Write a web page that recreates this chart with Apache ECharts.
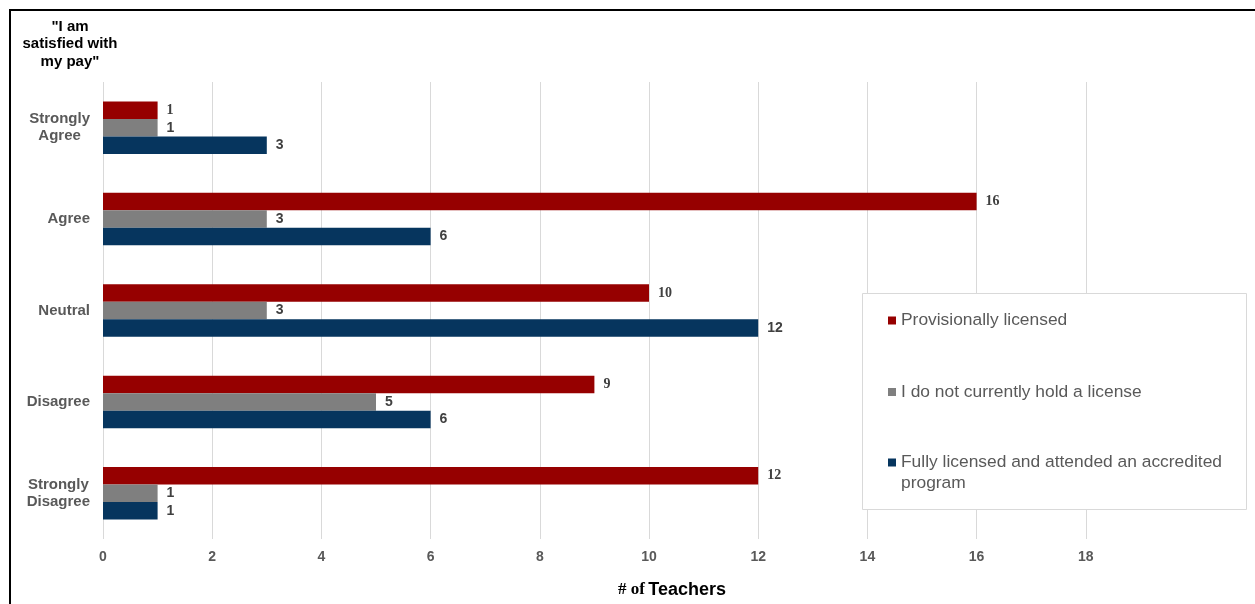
<!DOCTYPE html>
<html>
<head>
<meta charset="utf-8">
<script src="https://cdn.jsdelivr.net/npm/echarts@6/dist/echarts.min.js"></script>
<style>
  html, body { margin: 0; padding: 0; background: #fff; }
  #chart { width: 1255px; height: 604px; }
</style>
</head>
<body>
<div id="chart"></div>
<script>
// Survey responses: "I am satisfied with my pay", number of teachers per licensing group
const categories = ['Strongly Agree', 'Agree', 'Neutral', 'Disagree', 'Strongly Disagree'];
const provisional = [1, 16, 10, 9, 12];
const noLicense = [1, 3, 3, 5, 1];
const fullyLicensed = [3, 6, 12, 6, 1];
const seriesNames = [
  'Provisionally licensed',
  'I do not currently hold a license',
  'Fully licensed and attended an accredited program'
];
const xMin = 0, xMax = 20, xStep = 2;

const SANS = 'Liberation Sans, Arial, sans-serif';
const SERIF = 'Liberation Serif, Times New Roman, serif';
const colors = ['#960000', '#7f7f7f', '#06355e'];

const chart = echarts.init(document.getElementById('chart'), null, { renderer: 'canvas' });

function barSeries(name, data, color, serifLabel) {
  return {
    name: name,
    type: 'bar',
    data: data,
    barWidth: 17.5,
    barGap: '0%',
    itemStyle: { color: color },
    label: {
      show: true,
      position: 'right',
      distance: 9,
      color: '#404040',
      fontSize: 14,
      fontWeight: 'bold',
      fontFamily: serifLabel ? SERIF : SANS
    }
  };
}

const legendText = { color: '#595959', fontSize: 17.4, fontFamily: SANS, lineHeight: 21 };

const option = {
  animation: false,
  backgroundColor: '#fff',
  grid: { left: 103, right: 60, top: 82, bottom: 64, containLabel: false },
  xAxis: {
    type: 'value',
    min: xMin,
    max: xMax,
    interval: xStep,
    axisLine: { show: false },
    axisTick: { show: false },
    splitLine: { show: true, showMaxLine: false, lineStyle: { color: '#d9d9d9', width: 1 } },
    axisLabel: {
      showMaxLabel: false,
      margin: 11,
      color: '#595959',
      fontSize: 14,
      fontWeight: 'bold',
      fontFamily: SANS
    },
    name: '{s|# of} {t|Teachers}',
    nameLocation: 'middle',
    nameGap: 42,
    nameTextStyle: {
      padding: [0, 0, 0, 46],
      rich: {
        s: { fontFamily: SERIF, fontWeight: 'bold', fontSize: 17, color: '#000' },
        t: { fontFamily: SANS, fontWeight: 'bold', fontSize: 18, color: '#000' }
      }
    }
  },
  yAxis: {
    type: 'category',
    data: categories,
    inverse: true,
    axisLine: { show: false },
    axisTick: { show: false },
    splitLine: { show: false },
    axisLabel: {
      margin: 13,
      lineHeight: 17,
      formatter: function (v) {
        return v.split(' ').map(function (w) { return '{c|' + w + '}'; }).join('\n');
      },
      rich: {
        c: { align: 'center', color: '#595959', fontSize: 15, fontWeight: 'bold', fontFamily: SANS, lineHeight: 17 }
      }
    }
  },
  legend: [
    {
      data: [seriesNames[0], seriesNames[1]],
      orient: 'vertical',
      left: 888,
      top: 310,
      padding: 0,
      itemGap: 50.5,
      itemWidth: 8,
      itemHeight: 8,
      icon: 'rect',
      textStyle: legendText,
      z: 6
    },
    {
      // leading empty line keeps the marker level with the first text line
      data: [seriesNames[2]],
      orient: 'vertical',
      left: 888,
      top: 431,
      padding: 0,
      itemWidth: 8,
      itemHeight: 8,
      icon: 'rect',
      formatter: function () { return '\nFully licensed and attended an accredited\nprogram'; },
      textStyle: legendText,
      z: 6
    }
  ],
  graphic: [
    {
      type: 'rect',
      z: 3,
      shape: { x: 862.5, y: 293.5, width: 384, height: 216 },
      style: { fill: '#fff', stroke: '#d9d9d9', lineWidth: 1 }
    },
    {
      type: 'text',
      z: 5,
      x: 70,
      y: 18,
      style: {
        text: '"I am\nsatisfied with\nmy pay"',
        align: 'center',
        verticalAlign: 'top',
        fill: '#000',
        font: 'bold 15px ' + SANS,
        lineHeight: 17.5
      }
    },
    {
      type: 'line',
      z: 10,
      shape: { x1: 9, y1: 10, x2: 1255, y2: 10 },
      style: { stroke: '#000', lineWidth: 2 }
    },
    {
      type: 'line',
      z: 10,
      shape: { x1: 10, y1: 9, x2: 10, y2: 604 },
      style: { stroke: '#000', lineWidth: 2 }
    }
  ],
  series: [
    barSeries(seriesNames[0], provisional, colors[0], true),
    barSeries(seriesNames[1], noLicense, colors[1], false),
    barSeries(seriesNames[2], fullyLicensed, colors[2], false)
  ]
};

chart.setOption(option);
</script>
</body>
</html>
